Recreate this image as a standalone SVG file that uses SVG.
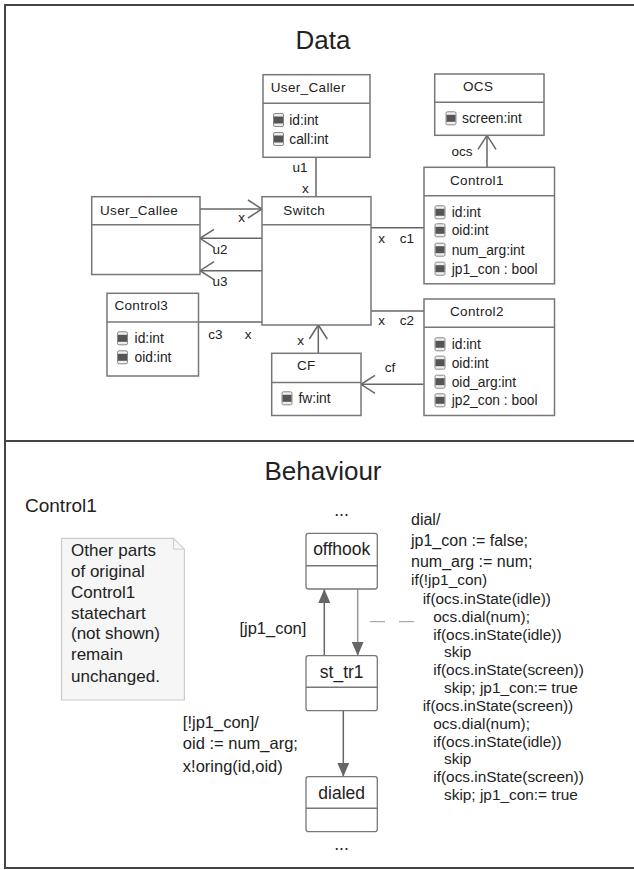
<svg xmlns="http://www.w3.org/2000/svg" width="634" height="870" viewBox="0 0 634 870">
  <style>
    text { font-family: "Liberation Sans", Arial, sans-serif; fill: #222; }
    .title { font-size: 26px; text-anchor: middle; }
    .hdr { font-size: 13.5px; letter-spacing: 0.35px; }
    .attr { font-size: 13.8px; }
    .lbl { font-size: 13.5px; text-anchor: middle; }
    .box { fill: #fff; stroke: #777; stroke-width: 1.5; }
    .sep { stroke: #777; stroke-width: 1.5; }
    .con { fill: none; stroke: #666; stroke-width: 1.5; }
    .con-light { fill: none; stroke: #999; stroke-width: 1.5; }
    .state { fill: #fff; stroke: #777; stroke-width: 1.3; }
    .sname { font-size: 17.5px; text-anchor: middle; }
    .guard { font-size: 16.5px; }
    .act { font-size: 16px; }
    .code { font-size: 15.4px; }
    .note-t { font-size: 17px; }
  </style>
  <defs>
    <marker id="open" markerUnits="userSpaceOnUse" markerWidth="18" markerHeight="22" viewBox="-2 -2 18 22" refX="14" refY="9" orient="auto">
      <path d="M0,0 L14,9 L0,18" fill="none" stroke="#666" stroke-width="1.5"/>
    </marker>
    <marker id="solid" markerUnits="userSpaceOnUse" markerWidth="14" markerHeight="12" viewBox="0 0 14 12" refX="14" refY="6" orient="auto">
      <path d="M0,0 L14,6 L0,12 z" fill="#666"/>
    </marker>
    <g id="attr-icon">
      <rect x="0" y="0" width="10" height="13" rx="1.5" fill="#eee" stroke="#888" stroke-width="1"/>
      <rect x="0.5" y="3" width="9" height="7" fill="#555"/>
    </g>
  </defs>

  <!-- frame -->
  <path d="M634,5 H5 V868 H634" fill="none" stroke="#444" stroke-width="2"/>
  <line x1="5" y1="441" x2="634" y2="441" stroke="#444" stroke-width="2"/>

  <!-- section titles -->
  <text class="title" x="323" y="49">Data</text>
  <text class="title" x="323" y="480">Behaviour</text>
  <text x="25" y="512" style="font-size:19px">Control1</text>

  <!-- data connectors -->
  <g id="connectors">
    <line class="con" x1="316" y1="157" x2="316" y2="197"/>
    <line class="con" x1="200" y1="209" x2="262" y2="209" marker-end="url(#open)"/>
    <line class="con" x1="262" y1="238.3" x2="200" y2="238.3" marker-end="url(#open)"/>
    <line class="con" x1="262" y1="270.7" x2="200" y2="270.7" marker-end="url(#open)"/>
    <line class="con" x1="371" y1="227.7" x2="424" y2="227.7"/>
    <line class="con" x1="371" y1="311" x2="424" y2="311"/>
    <line class="con" x1="198.5" y1="322" x2="262" y2="322"/>
    <line class="con" x1="318.3" y1="353.3" x2="318.3" y2="325" marker-end="url(#open)"/>
    <line class="con" x1="424" y1="384.3" x2="361" y2="384.3" marker-end="url(#open)"/>
    <line class="con" x1="487" y1="167.3" x2="487" y2="135.3" marker-end="url(#open)"/>

    <!-- statechart transitions -->
    <line class="con" x1="324.3" y1="655.7" x2="324.3" y2="589" marker-end="url(#solid)"/>
    <line class="con-light" x1="357.7" y1="589" x2="357.7" y2="655.7" marker-end="url(#solid)"/>
    <line class="con" x1="343.3" y1="710.7" x2="343.3" y2="776.7" marker-end="url(#solid)"/>
    <line x1="370" y1="621.7" x2="414" y2="621.7" stroke="#aaa" stroke-width="1.3" stroke-dasharray="15,14"/>
  </g>

  <!-- connector labels -->
  <g id="connector-labels">
    <text class="lbl" x="300" y="172">u1</text>
    <text class="lbl" x="305.3" y="192.5">x</text>
    <text class="lbl" x="241.7" y="222">x</text>
    <text class="lbl" x="220" y="254">u2</text>
    <text class="lbl" x="220" y="285.5">u3</text>
    <text class="lbl" x="381.7" y="242.5">x</text>
    <text class="lbl" x="407" y="242.5">c1</text>
    <text class="lbl" x="381.7" y="325">x</text>
    <text class="lbl" x="407" y="325">c2</text>
    <text class="lbl" x="215.5" y="338.5">c3</text>
    <text class="lbl" x="248" y="338.5">x</text>
    <text class="lbl" x="300.7" y="344.5">x</text>
    <text class="lbl" x="390" y="371.5">cf</text>
    <text class="lbl" x="462" y="155.5">ocs</text>
  </g>

  <!-- classes -->
  <g id="User_Caller">
    <rect class="box" x="263" y="74.7" width="107" height="82.6"/>
    <line class="sep" x1="263" y1="103.3" x2="370" y2="103.3"/>
    <text class="hdr" x="270.7" y="92.4">User_Caller</text>
    <use href="#attr-icon" x="273.5" y="113.5"/>
    <text class="attr" x="289.3" y="124.8">id:int</text>
    <use href="#attr-icon" x="273.5" y="132.5"/>
    <text class="attr" x="289.3" y="143.8">call:int</text>
  </g>

  <g id="OCS">
    <rect class="box" x="434.7" y="74" width="109.3" height="61.3"/>
    <line class="sep" x1="434.7" y1="102.3" x2="544" y2="102.3"/>
    <text class="hdr" x="463" y="91.4">OCS</text>
    <use href="#attr-icon" x="446" y="111.8"/>
    <text class="attr" x="462" y="123.1">screen:int</text>
  </g>

  <g id="Control1">
    <rect class="box" x="424" y="167.3" width="130.5" height="116.5"/>
    <line class="sep" x1="424" y1="195.7" x2="554.5" y2="195.7"/>
    <text class="hdr" x="450" y="184.7">Control1</text>
    <use href="#attr-icon" x="435" y="205.8"/>
    <text class="attr" x="451.7" y="217.1">id:int</text>
    <use href="#attr-icon" x="435" y="223.8"/>
    <text class="attr" x="451.7" y="235.1">oid:int</text>
    <use href="#attr-icon" x="435" y="243.2"/>
    <text class="attr" x="451.7" y="254.5">num_arg:int</text>
    <use href="#attr-icon" x="435" y="262.2"/>
    <text class="attr" x="451.7" y="273.5">jp1_con : bool</text>
  </g>

  <g id="User_Callee">
    <rect class="box" x="91.7" y="196.7" width="108.3" height="77.8"/>
    <line class="sep" x1="91.7" y1="224.7" x2="200" y2="224.7"/>
    <text class="hdr" x="100" y="214.7">User_Callee</text>
  </g>

  <g id="Switch">
    <rect class="box" x="262" y="196.7" width="109" height="128.3"/>
    <line class="sep" x1="262" y1="224.7" x2="371" y2="224.7"/>
    <text class="hdr" x="283.3" y="214.7">Switch</text>
  </g>

  <g id="Control3">
    <rect class="box" x="107" y="293.3" width="91.5" height="82.7"/>
    <line class="sep" x1="107" y1="322" x2="198.5" y2="322"/>
    <text class="hdr" x="114.4" y="310">Control3</text>
    <use href="#attr-icon" x="117.5" y="331.8"/>
    <text class="attr" x="134.6" y="343.1">id:int</text>
    <use href="#attr-icon" x="117.5" y="350.8"/>
    <text class="attr" x="134.6" y="362.1">oid:int</text>
  </g>

  <g id="Control2">
    <rect class="box" x="424" y="299" width="130.5" height="116.5"/>
    <line class="sep" x1="424" y1="327.3" x2="554.5" y2="327.3"/>
    <text class="hdr" x="450" y="316.4">Control2</text>
    <use href="#attr-icon" x="435" y="337.8"/>
    <text class="attr" x="451.7" y="349.1">id:int</text>
    <use href="#attr-icon" x="435" y="356.2"/>
    <text class="attr" x="451.7" y="367.5">oid:int</text>
    <use href="#attr-icon" x="435" y="375.2"/>
    <text class="attr" x="451.7" y="386.5">oid_arg:int</text>
    <use href="#attr-icon" x="435" y="393.8"/>
    <text class="attr" x="451.7" y="405.1">jp2_con : bool</text>
  </g>

  <g id="CF">
    <rect class="box" x="271.7" y="353.3" width="89.3" height="62.2"/>
    <line class="sep" x1="271.7" y1="382.5" x2="361" y2="382.5"/>
    <text class="hdr" x="297" y="370.4">CF</text>
    <use href="#attr-icon" x="282" y="391.8"/>
    <text class="attr" x="298.4" y="403.1">fw:int</text>
  </g>

  <!-- behaviour: note -->
  <g id="note">
    <path d="M61.5,538.3 H173.5 L184.4,549.2 V700 H61.5 Z" fill="#f6f6f6" stroke="#ccc" stroke-width="1.2"/>
    <path d="M173.5,538.3 V549.2 H184.4" fill="none" stroke="#ccc" stroke-width="1"/>
    <text class="note-t" x="71" y="556">Other parts</text>
    <text class="note-t" x="71" y="577">of original</text>
    <text class="note-t" x="71" y="598.3">Control1</text>
    <text class="note-t" x="71" y="619.3">statechart</text>
    <text class="note-t" x="71" y="639.3">(not shown)</text>
    <text class="note-t" x="71" y="660.3">remain</text>
    <text class="note-t" x="71" y="681.7">unchanged.</text>
  </g>

  <!-- behaviour: states -->
  <text class="sname" x="341.5" y="516">...</text>
  <g id="offhook">
    <rect class="state" x="306" y="533.3" width="71.3" height="55.7" rx="2.5"/>
    <line class="sep" x1="306" y1="565.7" x2="377.3" y2="565.7" stroke-width="1.3"/>
    <text class="sname" x="341.7" y="555">offhook</text>
  </g>
  <g id="st_tr1">
    <rect class="state" x="306" y="655.7" width="71.3" height="55" rx="2.5"/>
    <line class="sep" x1="306" y1="687.3" x2="377.3" y2="687.3" stroke-width="1.3"/>
    <text class="sname" x="341.7" y="677.7">st_tr1</text>
  </g>
  <g id="dialed">
    <rect class="state" x="306" y="776.7" width="71.3" height="55" rx="2.5"/>
    <line class="sep" x1="306" y1="808.3" x2="377.3" y2="808.3" stroke-width="1.3"/>
    <text class="sname" x="341.7" y="799">dialed</text>
  </g>
  <text class="sname" x="341.5" y="850">...</text>

  <!-- transition labels -->
  <g id="transition-labels">
    <text class="guard" x="239.4" y="634">[jp1_con]</text>
    <text class="guard" x="182.8" y="728">[!jp1_con]/</text>
    <text class="guard" x="182.8" y="749">oid := num_arg;</text>
    <text class="guard" x="182.8" y="772">x!oring(id,oid)</text>

    <text class="act" x="411" y="525">dial/</text>
    <text class="act" x="411" y="546">jp1_con := false;</text>
    <text class="act" x="411" y="566.5">num_arg := num;</text>
    <text class="code" x="411" y="585.4">if(!jp1_con)</text>
    <text class="code" x="422.7" y="603.7">if(ocs.inState(idle))</text>
    <text class="code" x="433.3" y="622">ocs.dial(num);</text>
    <text class="code" x="433.3" y="639.7">if(ocs.inState(idle))</text>
    <text class="code" x="444" y="657.4">skip</text>
    <text class="code" x="433.3" y="674.7">if(ocs.inState(screen))</text>
    <text class="code" x="444" y="692.7">skip; jp1_con:= true</text>
    <text class="code" x="422.7" y="710.7">if(ocs.inState(screen))</text>
    <text class="code" x="433.3" y="728.7">ocs.dial(num);</text>
    <text class="code" x="433.3" y="746.7">if(ocs.inState(idle))</text>
    <text class="code" x="444" y="764">skip</text>
    <text class="code" x="433.3" y="782">if(ocs.inState(screen))</text>
    <text class="code" x="444" y="800.4">skip; jp1_con:= true</text>
  </g>
</svg>
